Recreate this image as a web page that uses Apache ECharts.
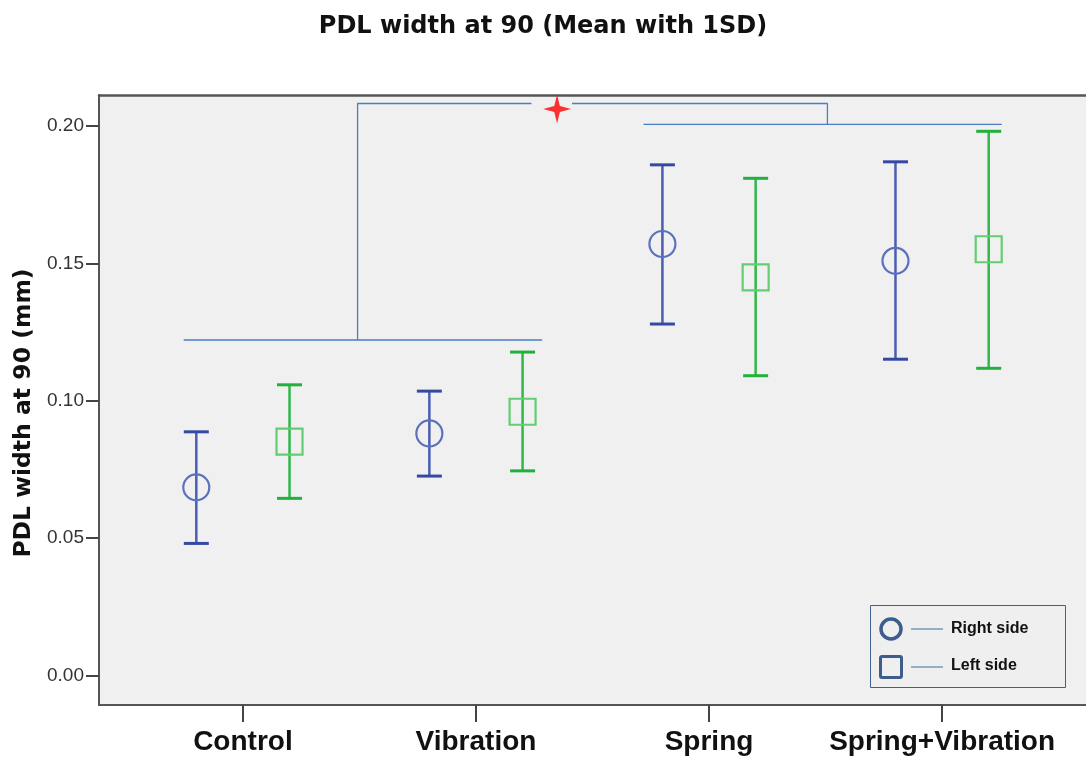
<!DOCTYPE html>
<html>
<head>
<meta charset="utf-8">
<script src="https://cdn.jsdelivr.net/npm/echarts@6/dist/echarts.min.js"></script>
<style>html,body{margin:0;padding:0;background:#fff;}#c{width:1086px;height:765px;}</style>
</head>
<body>
<div id="c"></div>
<script>
// ---------- data ----------
const categories = ['Control', 'Vibration', 'Spring', 'Spring+Vibration'];
const rightMean = [0.0685, 0.0881, 0.1570, 0.1509];
const rightLow  = [0.0481, 0.0726, 0.1279, 0.1151];
const rightHigh = [0.0887, 0.1035, 0.1858, 0.1869];
const leftMean  = [0.0851, 0.0960, 0.1449, 0.1551];
const leftLow   = [0.0645, 0.0745, 0.1091, 0.1118];
const leftHigh  = [0.1058, 0.1177, 0.1809, 0.1980];
const yTicks = [0, 0.05, 0.10, 0.15, 0.20];
// significance bracket segments (x in category units, y in mm)
const bracketSegments = [
  [[-0.254, 0.1221], [1.284, 0.1221]],
  [[0.492, 0.1221], [0.492, 0.2081], [1.238, 0.2081]],
  [[1.412, 0.2081], [2.508, 0.2081], [2.508, 0.2005]],
  [[1.719, 0.2005], [3.256, 0.2005]]
];
const starPoint = [[1.348, 0.2061]];

// ---------- style ----------
const OFF = 0.2;
const blueLine = '#4a5db2', blueCap = '#3549a3', blueMarker = '#5c71bd';
const greenLine = '#2fb849', greenCap = '#22b03c', greenMarker = '#62cd72';

function errSeries(name, xs, lo, hi, lineColor, capColor) {
  return {
    type: 'custom', name: name, z: 3,
    data: xs.map((x, i) => [x, lo[i], hi[i]]),
    renderItem: function (params, api) {
      const x = api.value(0);
      const p1 = api.coord([x, api.value(2)]);
      const p2 = api.coord([x, api.value(1)]);
      const hw = 12.5;
      return { type: 'group', children: [
        { type: 'line', shape: { x1: p1[0], y1: p1[1], x2: p2[0], y2: p2[1] }, style: { stroke: lineColor, lineWidth: 2.5 } },
        { type: 'line', shape: { x1: p1[0] - hw, y1: p1[1], x2: p1[0] + hw, y2: p1[1] }, style: { stroke: capColor, lineWidth: 3 } },
        { type: 'line', shape: { x1: p2[0] - hw, y1: p2[1], x2: p2[0] + hw, y2: p2[1] }, style: { stroke: capColor, lineWidth: 3 } }
      ] };
    },
    animation: false
  };
}

const rightX = categories.map((c, i) => i - OFF);
const leftX = categories.map((c, i) => i + OFF);

const series = [
  errSeries('Right err', rightX, rightLow, rightHigh, blueLine, blueCap),
  errSeries('Left err', leftX, leftLow, leftHigh, greenLine, greenCap),
  { type: 'scatter', name: 'Right side', z: 4, symbol: 'circle', symbolSize: 26,
    data: rightX.map((x, i) => [x, rightMean[i]]),
    itemStyle: { color: 'rgba(0,0,0,0)', borderColor: blueMarker, borderWidth: 2.2, opacity: 1 },
    animation: false },
  { type: 'scatter', name: 'Left side', z: 4, symbol: 'rect', symbolSize: 26,
    data: leftX.map((x, i) => [x, leftMean[i]]),
    itemStyle: { color: 'rgba(0,0,0,0)', borderColor: greenMarker, borderWidth: 2.2, opacity: 1 },
    animation: false },
  { type: 'scatter', name: 'star', z: 5,
    symbol: 'path://M50,0 L60,40 L100,50 L60,60 L50,100 L40,60 L0,50 L40,40 Z',
    symbolSize: [28, 29], data: starPoint,
    itemStyle: { color: '#ff0000' }, animation: false }
];
bracketSegments.forEach((seg, k) => {
  series.push({ type: 'line', name: 'bracket' + k, data: seg, symbol: 'none', z: 2,
    lineStyle: { color: '#4a7cc4', width: 1.3 }, animation: false, silent: true });
});

const chart = echarts.init(document.getElementById('c'), null, { renderer: 'canvas' });
chart.setOption({
  backgroundColor: '#ffffff',
  animation: false,
  title: {
    text: 'PDL width at 90 (Mean with 1SD)',
    left: 538, top: 10, textAlign: 'center',
    textStyle: { fontFamily: 'DejaVu Sans', fontWeight: 'bold', fontSize: 24, color: '#111' }
  },
  grid: {
    left: 99, right: -3, top: 95, bottom: 60, show: true,
    backgroundColor: '#f0f0f0', borderColor: '#555', borderWidth: 0
  },
  xAxis: [{
    type: 'value', min: -0.6175, max: 3.6175,
    splitLine: { show: false },
    axisLine: { show: true, onZero: false, lineStyle: { color: '#555', width: 2 } },
    axisTick: { show: true, customValues: [0, 1, 2, 3], length: 17, lineStyle: { color: '#444', width: 2 } },
    axisLabel: {
      customValues: [0, 1, 2, 3],
      formatter: v => categories[Math.round(v)],
      margin: 23, fontFamily: 'Liberation Sans', fontWeight: 'bold', fontSize: 28, color: '#111'
    }
  }, {
    type: 'value', position: 'top', min: -0.6175, max: 3.6175,
    splitLine: { show: false },
    axisLine: { show: true, onZero: false, lineStyle: { color: '#555', width: 2.5 } },
    axisTick: { show: false }, axisLabel: { show: false }
  }],
  yAxis: {
    type: 'value', min: -0.01066, max: 0.2112,
    splitLine: { show: false },
    axisLine: { show: true, onZero: false, lineStyle: { color: '#555', width: 2 } },
    axisTick: { show: true, customValues: yTicks, length: 13, lineStyle: { color: '#444', width: 2 } },
    axisLabel: {
      customValues: yTicks,
      formatter: v => v.toFixed(2),
      margin: 15, fontFamily: 'Liberation Sans', fontSize: 19, color: '#333'
    }
  },
  graphic: [
    { type: 'text', x: 24, y: 413, rotation: Math.PI / 2,
      style: { text: 'PDL width at 90 (mm)', font: 'bold 23.5px "DejaVu Sans"', fill: '#111', align: 'center', verticalAlign: 'middle' } },
    { type: 'rect', shape: { x: 870.5, y: 605.5, width: 195, height: 82 }, z: 10,
      style: { fill: '#efefef', stroke: '#3f5f8f', lineWidth: 1 } },
    { type: 'circle', shape: { cx: 891, cy: 629, r: 10 }, z: 11,
      style: { fill: 'none', stroke: '#3d5d8d', lineWidth: 3.5 } },
    { type: 'rect', shape: { x: 880.5, y: 656.5, width: 21, height: 21, r: 1.5 }, z: 11,
      style: { fill: 'none', stroke: '#3d5d8d', lineWidth: 3 } },
    { type: 'line', shape: { x1: 911, y1: 629, x2: 943, y2: 629 }, z: 11, style: { stroke: '#3f6aa8', lineWidth: 1 } },
    { type: 'line', shape: { x1: 911, y1: 667, x2: 943, y2: 667 }, z: 11, style: { stroke: '#3f6aa8', lineWidth: 1 } },
    { type: 'text', x: 951, y: 629, z: 11,
      style: { text: 'Right side', font: 'bold 16px "Liberation Sans"', fill: '#111', verticalAlign: 'middle' } },
    { type: 'text', x: 951, y: 666, z: 11,
      style: { text: 'Left side', font: 'bold 16px "Liberation Sans"', fill: '#111', verticalAlign: 'middle' } }
  ],
  series: series
});
</script>
</body>
</html>
